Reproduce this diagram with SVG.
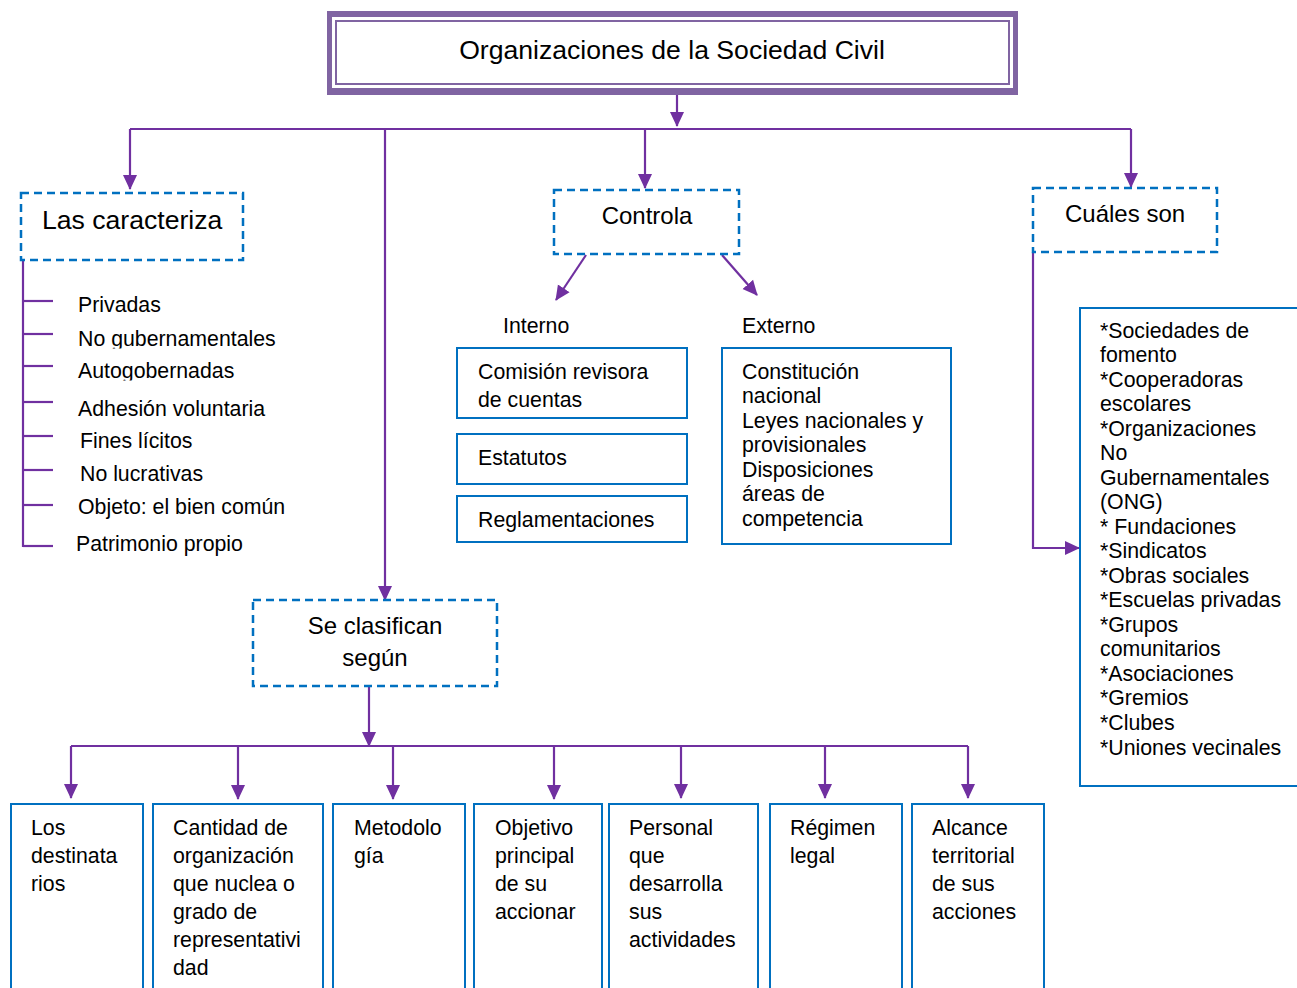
<svg xmlns="http://www.w3.org/2000/svg" width="1297" height="988" viewBox="0 0 1297 988">
  <style>
    text { font-family: "Liberation Sans", Arial, sans-serif; fill: #000; }
    .t20 { font-size: 21.3px; }
    .t21 { font-size: 21.3px; }
    .t24 { font-size: 24px; }
    .dash { fill: #fff; stroke: #0070C0; stroke-width: 2.5; stroke-dasharray: 8 5; }
    .box { fill: #fff; stroke: #0070C0; stroke-width: 2; }
    .wire { fill: none; stroke: #7030A0; stroke-width: 2.2; }
    .arr { fill: none; stroke: #7030A0; stroke-width: 2.2; marker-end: url(#head); }
  </style>
  <defs>
    <marker id="head" markerUnits="userSpaceOnUse" markerWidth="16" markerHeight="16" viewBox="0 0 16 16" refX="14" refY="8" orient="auto">
      <path d="M0,1 L15,8 L0,15 Z" fill="#7030A0"/>
    </marker>
    <!-- descenders of these two lines are cut off -->
    <clipPath id="cut1"><rect x="60" y="320" width="260" height="28.5"/></clipPath>
    <clipPath id="cut2"><rect x="60" y="352" width="260" height="28.5"/></clipPath>
  </defs>
  <rect width="1297" height="988" fill="#fff"/>

  <!-- connectors -->
  <g id="connectors">
    <line class="arr" x1="677" y1="94" x2="677" y2="126"/>
    <polyline class="wire" points="130,129 1131,129"/>
    <line class="arr" x1="130" y1="129" x2="130" y2="189"/>
    <line class="arr" x1="645" y1="129" x2="645" y2="188"/>
    <line class="arr" x1="1131" y1="129" x2="1131" y2="187"/>
    <line class="arr" x1="385" y1="129" x2="385" y2="600"/>
    <!-- characteristics list -->
    <line class="wire" x1="23" y1="260" x2="23" y2="547"/>
    <g class="wire">
      <line x1="23" y1="301" x2="53" y2="301"/>
      <line x1="23" y1="334" x2="53" y2="334"/>
      <line x1="23" y1="366" x2="53" y2="366"/>
      <line x1="23" y1="402" x2="53" y2="402"/>
      <line x1="23" y1="436" x2="53" y2="436"/>
      <line x1="23" y1="470" x2="53" y2="470"/>
      <line x1="23" y1="505" x2="53" y2="505"/>
      <line x1="23" y1="546" x2="53" y2="546"/>
    </g>
    <!-- control branches -->
    <line class="arr" x1="586" y1="255" x2="556" y2="300"/>
    <line class="arr" x1="722" y1="255" x2="757" y2="295"/>
    <!-- examples -->
    <polyline class="arr" points="1033,252 1033,548 1079,548"/>
    <!-- classification -->
    <line class="arr" x1="369" y1="686" x2="369" y2="746"/>
    <polyline class="wire" points="71,746 968,746"/>
    <line class="arr" x1="71" y1="746" x2="71" y2="798"/>
    <line class="arr" x1="238" y1="746" x2="238" y2="799"/>
    <line class="arr" x1="393" y1="746" x2="393" y2="799"/>
    <line class="arr" x1="554" y1="746" x2="554" y2="799"/>
    <line class="arr" x1="681" y1="746" x2="681" y2="798"/>
    <line class="arr" x1="825" y1="746" x2="825" y2="798"/>
    <line class="arr" x1="968" y1="746" x2="968" y2="798"/>
  </g>

  <!-- title -->
  <g id="title">
    <rect x="327" y="11" width="691" height="84" fill="#8064A2"/>
    <rect x="332" y="17" width="681" height="71" fill="#fff"/>
    <rect x="336" y="21" width="673" height="63" fill="none" stroke="#8064A2" stroke-width="2"/>
    <text x="672" y="59" text-anchor="middle" style="font-size:26.6px">Organizaciones de la Sociedad Civil</text>
  </g>

  <g id="caracteriza">
    <rect class="dash" x="21" y="193" width="222" height="67"/>
    <text x="42" y="229" style="font-size:26.6px">Las caracteriza</text>
  </g>

  <g id="caracteristicas" class="t20">
    <text x="78" y="312">Privadas</text>
    <text x="78" y="346" clip-path="url(#cut1)">No gubernamentales</text>
    <text x="78" y="378" clip-path="url(#cut2)">Autogobernadas</text>
    <text x="78" y="416">Adhesión voluntaria</text>
    <text x="80" y="448">Fines lícitos</text>
    <text x="80" y="481">No lucrativas</text>
    <text x="78" y="514">Objeto: el bien común</text>
    <text x="76" y="551">Patrimonio propio</text>
  </g>

  <g id="controla">
    <rect class="dash" x="554" y="190" width="185" height="64"/>
    <text class="t24" x="647" y="224" text-anchor="middle">Controla</text>
  </g>

  <g id="interno">
    <text class="t20" x="503" y="333">Interno</text>
    <rect class="box" x="457" y="348" width="230" height="70"/>
    <text class="t20" x="478" y="379">Comisión revisora</text>
    <text class="t20" x="478" y="407">de cuentas</text>
    <rect class="box" x="457" y="434" width="230" height="50"/>
    <text class="t20" x="478" y="465">Estatutos</text>
    <rect class="box" x="457" y="496" width="230" height="46"/>
    <text class="t20" x="478" y="527">Reglamentaciones</text>
  </g>

  <g id="externo" class="t20">
    <text x="742" y="333">Externo</text>
    <rect class="box" x="722" y="348" width="229" height="196"/>
    <text x="742" y="379">Constitución</text>
    <text x="742" y="403">nacional</text>
    <text x="742" y="428">Leyes nacionales y</text>
    <text x="742" y="452">provisionales</text>
    <text x="742" y="477">Disposiciones</text>
    <text x="742" y="501">áreas de</text>
    <text x="742" y="526">competencia</text>
  </g>

  <g id="cuales">
    <rect class="dash" x="1033" y="188" width="184" height="64"/>
    <text class="t24" x="1065" y="222">Cuáles son</text>
  </g>

  <g id="ejemplos" class="t20">
    <rect class="box" x="1080" y="308" width="230" height="478"/>
    <text x="1100" y="338">*Sociedades de</text>
    <text x="1100" y="362">fomento</text>
    <text x="1100" y="387">*Cooperadoras</text>
    <text x="1100" y="411">escolares</text>
    <text x="1100" y="436">*Organizaciones</text>
    <text x="1100" y="460">No</text>
    <text x="1100" y="485">Gubernamentales</text>
    <text x="1100" y="509">(ONG)</text>
    <text x="1100" y="534">* Fundaciones</text>
    <text x="1100" y="558">*Sindicatos</text>
    <text x="1100" y="583">*Obras sociales</text>
    <text x="1100" y="607">*Escuelas privadas</text>
    <text x="1100" y="632">*Grupos</text>
    <text x="1100" y="656">comunitarios</text>
    <text x="1100" y="681">*Asociaciones</text>
    <text x="1100" y="705">*Gremios</text>
    <text x="1100" y="730">*Clubes</text>
    <text x="1100" y="755">*Uniones vecinales</text>
  </g>

  <g id="clasifican">
    <rect class="dash" x="253" y="600" width="244" height="86"/>
    <text class="t24" x="375" y="634" text-anchor="middle">Se clasifican</text>
    <text class="t24" x="375" y="666" text-anchor="middle">según</text>
  </g>

  <g id="destinatarios" class="t21">
    <rect class="box" x="11" y="804" width="132" height="200"/>
    <text x="31" y="835">Los</text>
    <text x="31" y="863">destinata</text>
    <text x="31" y="891">rios</text>
  </g>

  <g id="cantidad" class="t21">
    <rect class="box" x="153" y="804" width="170" height="200"/>
    <text x="173" y="835">Cantidad de</text>
    <text x="173" y="863">organización</text>
    <text x="173" y="891">que nuclea o</text>
    <text x="173" y="919">grado de</text>
    <text x="173" y="947">representativi</text>
    <text x="173" y="975">dad</text>
  </g>

  <g id="metodologia" class="t21">
    <rect class="box" x="333" y="804" width="132" height="200"/>
    <text x="354" y="835">Metodolo</text>
    <text x="354" y="863">gía</text>
  </g>

  <g id="objetivo" class="t21">
    <rect class="box" x="474" y="804" width="128" height="200"/>
    <text x="495" y="835">Objetivo</text>
    <text x="495" y="863">principal</text>
    <text x="495" y="891">de su</text>
    <text x="495" y="919">accionar</text>
  </g>

  <g id="personal" class="t21">
    <rect class="box" x="609" y="804" width="149" height="200"/>
    <text x="629" y="835">Personal</text>
    <text x="629" y="863">que</text>
    <text x="629" y="891">desarrolla</text>
    <text x="629" y="919">sus</text>
    <text x="629" y="947">actividades</text>
  </g>

  <g id="regimen" class="t21">
    <rect class="box" x="770" y="804" width="132" height="200"/>
    <text x="790" y="835">Régimen</text>
    <text x="790" y="863">legal</text>
  </g>

  <g id="alcance" class="t21">
    <rect class="box" x="912" y="804" width="132" height="200"/>
    <text x="932" y="835">Alcance</text>
    <text x="932" y="863">territorial</text>
    <text x="932" y="891">de sus</text>
    <text x="932" y="919">acciones</text>
  </g>
</svg>
